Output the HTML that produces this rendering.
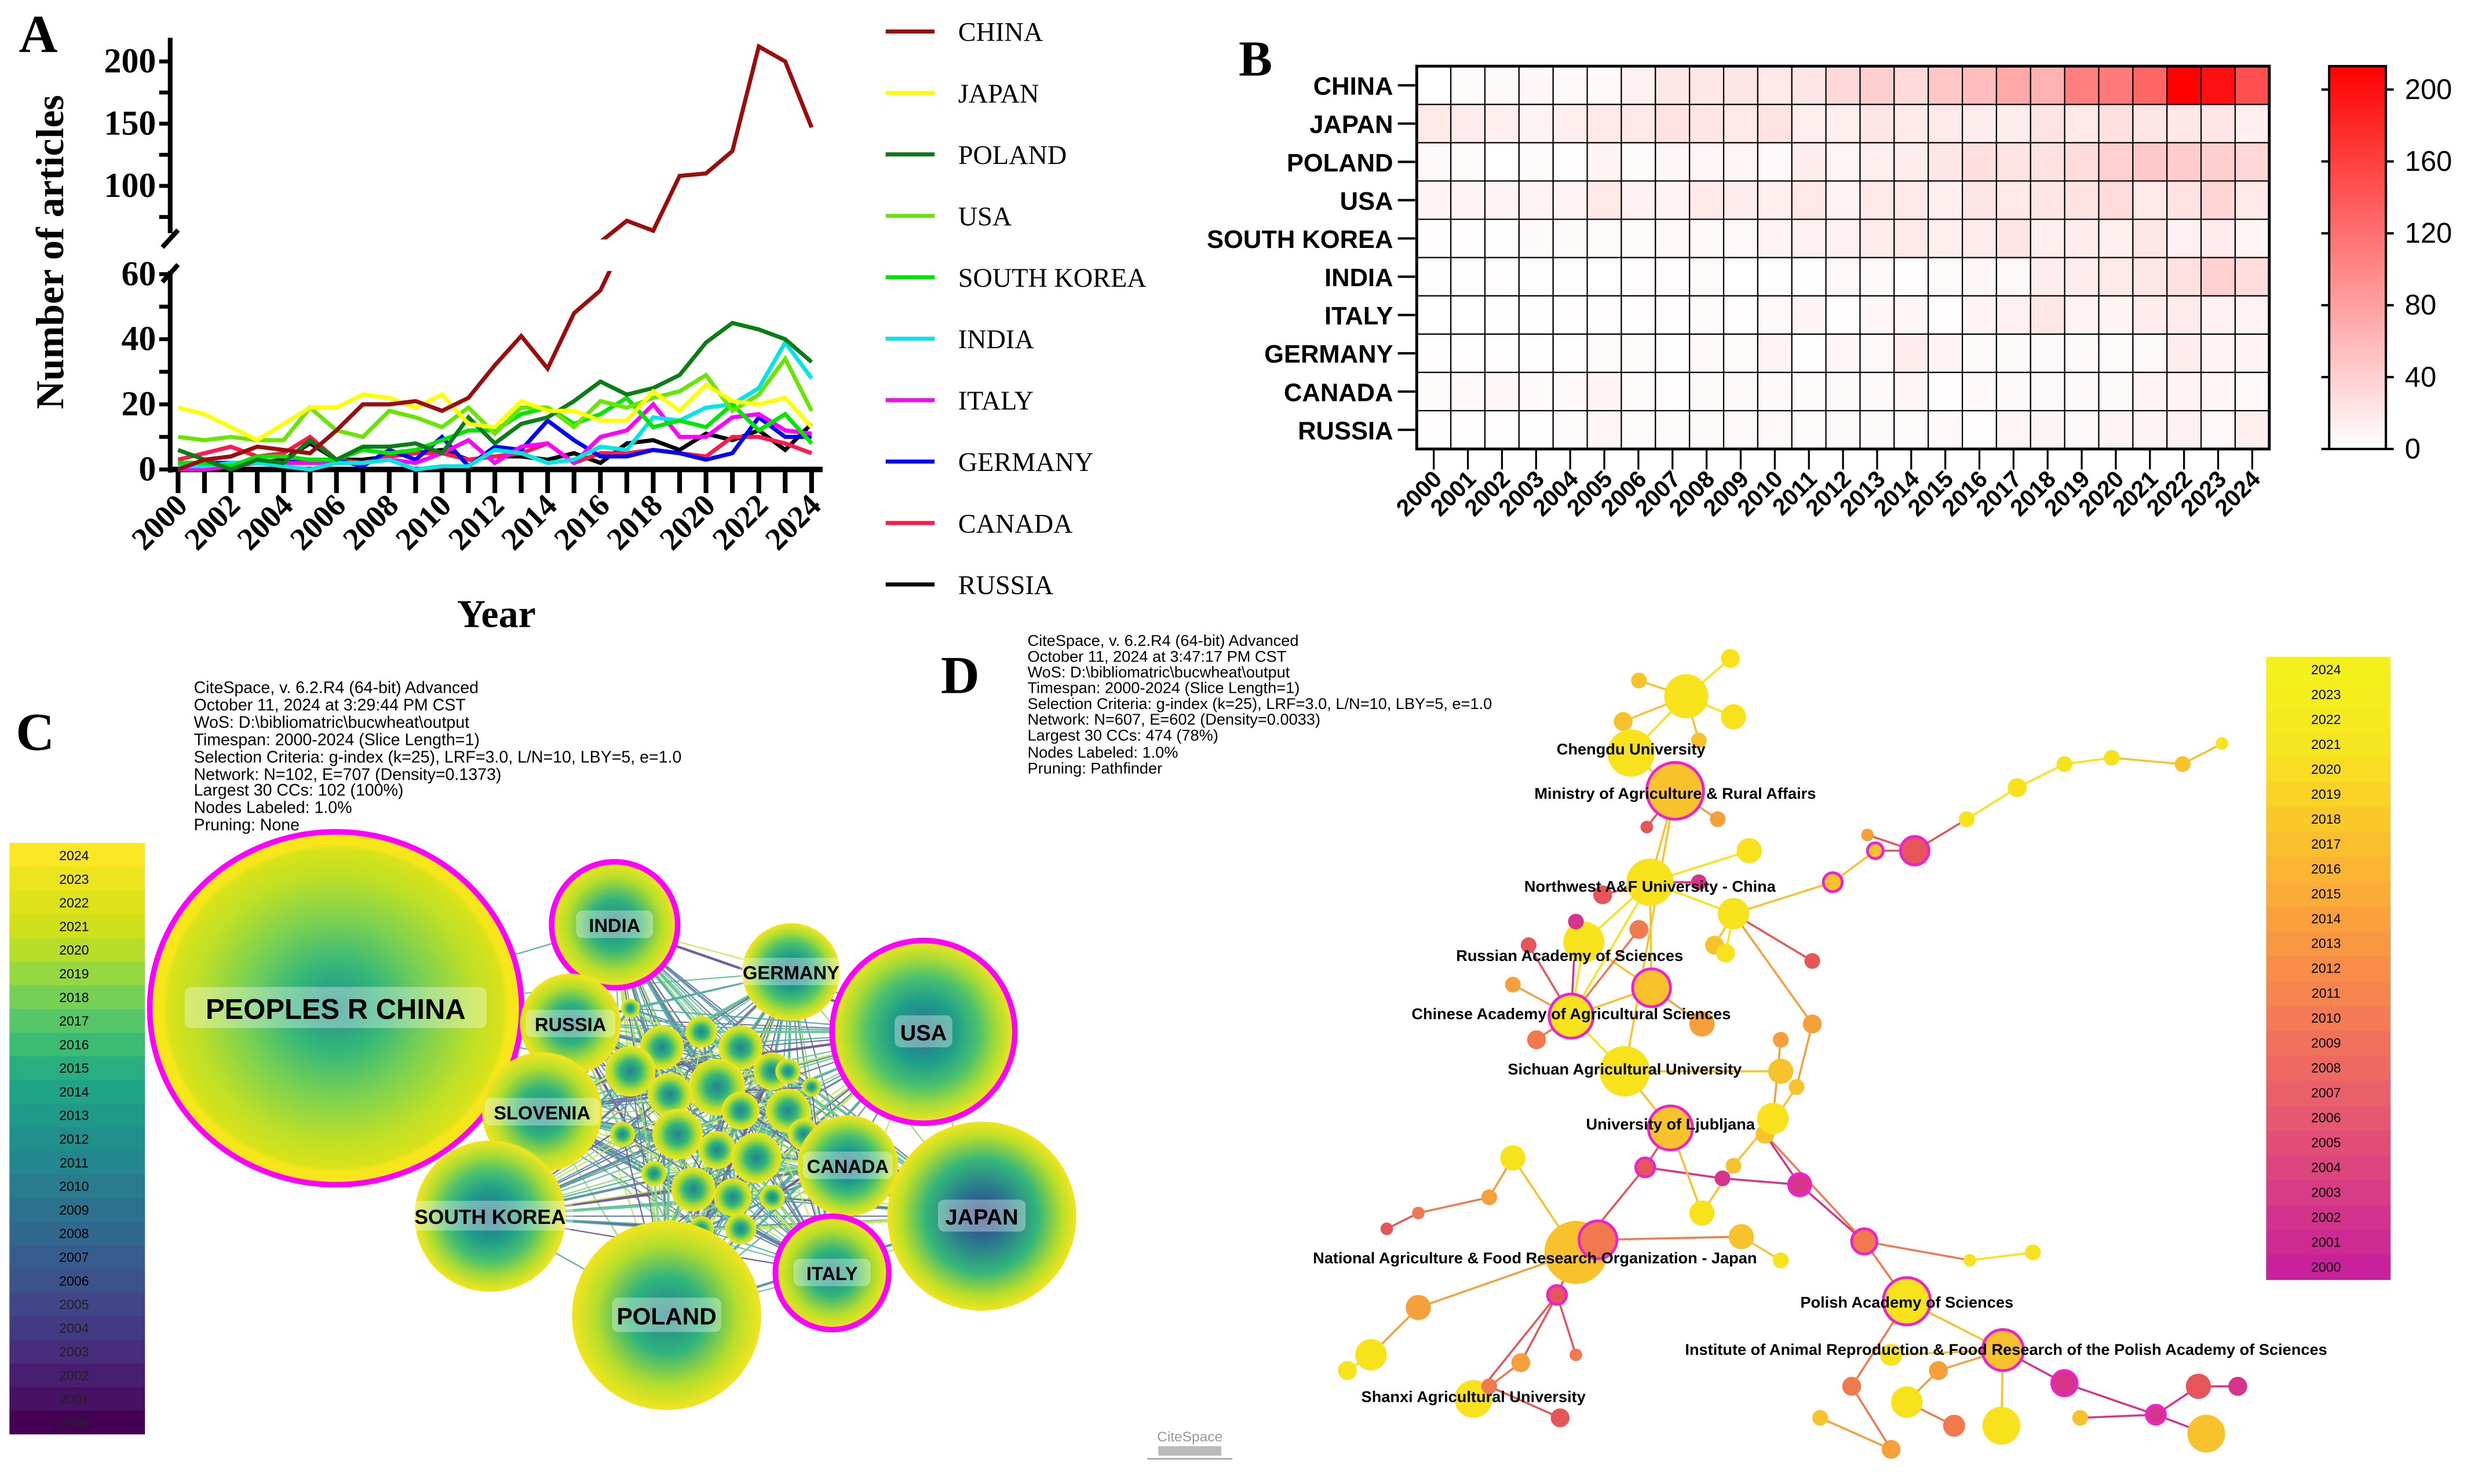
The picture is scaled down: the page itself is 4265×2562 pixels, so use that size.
<!DOCTYPE html>
<html><head><meta charset="utf-8">
<style>
html,body{margin:0;padding:0;background:#fff;}
svg{display:block;}
.serif{font-family:"Liberation Serif",serif;}
.sans{font-family:"Liberation Sans",sans-serif;}
.narrow{font-family:"Liberation Sans Narrow","Liberation Sans",sans-serif;}
</style></head>
<body>
<svg id="fig" xmlns="http://www.w3.org/2000/svg" width="4265" height="2562" viewBox="0 0 1568 942" preserveAspectRatio="none">
<defs>
<clipPath id="clipLow"><rect x="100" y="172" width="440" height="140"/></clipPath>
<clipPath id="clipHigh"><rect x="100" y="0" width="440" height="152"/></clipPath>
<linearGradient id="heatBar" x1="0" y1="1" x2="0" y2="0"><stop offset="0" stop-color="#ffffff"/><stop offset="1" stop-color="#ff0000"/></linearGradient>
<radialGradient id="gC"><stop offset="0" stop-color="#2c6f8e"/><stop offset="0.35" stop-color="#1f9e89"/><stop offset="0.6" stop-color="#4ac16d"/><stop offset="0.8" stop-color="#a5db36"/><stop offset="1" stop-color="#f2e51d"/></radialGradient>
<radialGradient id="gS"><stop offset="0" stop-color="#26828e"/><stop offset="0.4" stop-color="#2fb47c"/><stop offset="0.75" stop-color="#b5de2b"/><stop offset="1" stop-color="#f2e51d"/></radialGradient>
<radialGradient id="gChina"><stop offset="0" stop-color="#21908d"/><stop offset="0.25" stop-color="#35b779"/><stop offset="0.5" stop-color="#7ad151"/><stop offset="0.75" stop-color="#bddf26"/><stop offset="0.9" stop-color="#d8e219"/><stop offset="0.93" stop-color="#f6e61a"/><stop offset="1" stop-color="#f6e61a"/></radialGradient>
<radialGradient id="gJapan"><stop offset="0" stop-color="#3b3f88"/><stop offset="0.3" stop-color="#2a788e"/><stop offset="0.6" stop-color="#35b779"/><stop offset="0.85" stop-color="#b8de29"/><stop offset="1" stop-color="#f2e51d"/></radialGradient>
</defs>

<g id="panelA">
<text x="12" y="33" class="serif" font-weight="bold" font-size="34">A</text>
<text transform="translate(40,160) rotate(-90)" text-anchor="middle" class="serif" font-weight="bold" font-size="25">Number of articles</text>
<text x="315" y="398" text-anchor="middle" class="serif" font-weight="bold" font-size="25">Year</text>
<g id="axesA"></g>
<g id="linesA"></g>
<g id="legendA"></g>
</g>

<g id="panelB">
<text x="786" y="48" class="serif" font-weight="bold" font-size="32">B</text>
<g id="heatB"></g>
</g>

<g id="panelC">
<text x="10" y="476" class="serif" font-weight="bold" font-size="34">C</text>
<g class="sans" font-size="10.5">
<text x="123" y="440">CiteSpace, v. 6.2.R4 (64-bit) Advanced</text>
<text x="123" y="451">October 11, 2024 at 3:29:44 PM CST</text>
<text x="123" y="462">WoS: D:\bibliomatric\bucwheat\output</text>
<text x="123" y="473">Timespan: 2000-2024 (Slice Length=1)</text>
<text x="123" y="484">Selection Criteria: g-index (k=25), LRF=3.0, L/N=10, LBY=5, e=1.0</text>
<text x="123" y="495">Network: N=102, E=707 (Density=0.1373)</text>
<text x="123" y="505">Largest 30 CCs: 102 (100%)</text>
<text x="123" y="516">Nodes Labeled: 1.0%</text>
<text x="123" y="527">Pruning: None</text>
</g>
<g id="legendC"></g>
<g id="netC"></g>
</g>

<g id="panelD">
<text x="597" y="440" class="serif" font-weight="bold" font-size="34">D</text>
<g class="sans" font-size="10">
<text x="652" y="410">CiteSpace, v. 6.2.R4 (64-bit) Advanced</text>
<text x="652" y="420">October 11, 2024 at 3:47:17 PM CST</text>
<text x="652" y="430">WoS: D:\bibliomatric\bucwheat\output</text>
<text x="652" y="440">Timespan: 2000-2024 (Slice Length=1)</text>
<text x="652" y="450">Selection Criteria: g-index (k=25), LRF=3.0, L/N=10, LBY=5, e=1.0</text>
<text x="652" y="460">Network: N=607, E=602 (Density=0.0033)</text>
<text x="652" y="470">Largest 30 CCs: 474 (78%)</text>
<text x="652" y="481">Nodes Labeled: 1.0%</text>
<text x="652" y="491">Pruning: Pathfinder</text>
</g>
<g id="legendD"></g>
<g id="netD"></g>
<g>
<text x="755" y="915" text-anchor="middle" class="sans" font-size="9" fill="#999">CiteSpace</text>
<rect x="735" y="918" width="40" height="6" fill="#bbb"/>
<line x1="728" y1="926" x2="782" y2="926" stroke="#aaa" stroke-width="1"/>
</g>
</g>
</svg>

<script>
const NS = "http://www.w3.org/2000/svg";
const years = [2000,2001,2002,2003,2004,2005,2006,2007,2008,2009,2010,2011,2012,2013,2014,2015,2016,2017,2018,2019,2020,2021,2022,2023,2024];
const countries = ["CHINA","JAPAN","POLAND","USA","SOUTH KOREA","INDIA","ITALY","GERMANY","CANADA","RUSSIA"];
const chinaVals   = [0,3,4,7,6,5,12,20,20,21,18,22,32,41,31,48,55,72,64,108,110,128,212,200,147];
const japanVals   = [19,17,13,9,14,19,19,23,22,19,23,14,13,21,18,18,15,15,24,18,26,21,20,22,13];
const polandVals  = [6,3,0,3,2,9,3,7,7,8,5,16,8,14,16,21,27,23,25,29,39,45,43,40,33];
const usaVals     = [10,9,10,9,9,19,12,10,18,16,13,19,11,19,19,13,21,19,22,24,29,18,23,34,18];
const koreaVals   = [2,2,1,4,4,3,3,6,5,6,9,12,12,17,19,14,17,22,13,15,13,20,12,17,8];
const indiaVals   = [1,1,2,2,1,0,2,2,3,0,1,1,6,5,2,3,7,6,16,15,19,20,25,39,28];
const italyVals   = [0,0,1,2,2,2,2,2,3,2,5,9,2,7,8,2,10,12,20,10,10,16,17,12,11];
const germanyVals = [2,2,2,2,2,3,3,1,6,3,10,1,7,6,15,9,4,4,6,5,3,5,16,10,10];
const canadaVals  = [3,5,7,4,5,10,3,2,4,5,5,3,4,5,8,2,5,5,6,5,4,10,10,8,5];
const russiaVals  = [2,2,2,2,3,8,3,3,4,5,6,3,4,4,3,5,2,8,9,6,11,9,12,6,14];
const lowTicks = [0,20,40,60];
const highTicks = [100,150,200];
const barTicks = [0,40,80,120,160,200];
const seriesColors = ["#9b0d0d","#ffff00","#0a7d14","#66e600","#00e600","#00e6e6","#ff00ff","#0000ff","#ff1a4d","#000000"];
const allSeries = [chinaVals,japanVals,polandVals,usaVals,koreaVals,indiaVals,italyVals,germanyVals,canadaVals,russiaVals];

function el(tag, attrs, parent){const e=document.createElementNS(NS,tag);for(const k in attrs)e.setAttribute(k,attrs[k]);if(parent)parent.appendChild(e);return e;}

const xA = i => 113 + i*(515-113)/24;
const yLow = v => 298 - v*(124/60);
const yHigh = v => 118 - (v-100)*0.79;
(function(){
  const ax=document.getElementById('axesA');
  let e;
  e=el('line',{x1:108,y1:172,x2:108,y2:300,stroke:'#000','stroke-width':3},ax);
  
  
  e=el('line',{x1:108,y1:24,x2:108,y2:148,stroke:'#000','stroke-width':3},ax);
  
  
  el('line',{x1:103,y1:157,x2:113,y2:146,stroke:'#000','stroke-width':3},ax);
  el('line',{x1:103,y1:179,x2:113,y2:168,stroke:'#000','stroke-width':3},ax);
  e=el('line',{x1:107,y1:298,x2:522,y2:298,stroke:'#000','stroke-width':3.5},ax);
  
  
  for(let v=0;v<=60;v+=10){el('line',{x1:101,y1:yLow(v),x2:108,y2:yLow(v),stroke:'#000','stroke-width':2.5},ax);}
  lowTicks.forEach(v=>{const t=el('text',{x:99,y:yLow(v)+7,'text-anchor':'end','font-size':22,'font-weight':'bold','class':'serif'},ax);t.textContent=v;
    
    });
  for(let v=75;v<=225;v+=25){if(yHigh(v)<24)continue;el('line',{x1:101,y1:yHigh(v),x2:108,y2:yHigh(v),stroke:'#000','stroke-width':2.5},ax);}
  highTicks.forEach(v=>{const t=el('text',{x:99,y:yHigh(v)+7,'text-anchor':'end','font-size':22,'font-weight':'bold','class':'serif'},ax);t.textContent=v;
    
    });
  years.forEach((yr,i)=>{el('line',{x1:xA(i),y1:298,x2:xA(i),y2:313,stroke:'#000','stroke-width':3},ax);
    if(i%2===0){const t=el('text',{transform:`translate(${xA(i)+7},${322}) rotate(-45)`,'text-anchor':'end','font-size':20,'font-weight':'bold','class':'serif'},ax);t.textContent=yr;
      
      }
  });
  const lg=document.getElementById('linesA');
  for(let s=allSeries.length-1;s>=0;s--){
    const vals=allSeries[s];
    const pl=el('polyline',{points:vals.map((v,i)=>xA(i)+','+yLow(v)).join(' '),fill:'none',stroke:seriesColors[s],'stroke-width':2.6,'stroke-linejoin':'miter','clip-path':'url(#clipLow)'},lg);
    
    
    if(s===0){
      const ph=el('polyline',{points:vals.map((v,i)=>xA(i)+','+yHigh(v)).join(' '),fill:'none',stroke:seriesColors[s],'stroke-width':2.6,'clip-path':'url(#clipHigh)'},lg);
      
      
    }
  }
  const lgd=document.getElementById('legendA');
  countries.forEach((c,i)=>{const y=20+i*39;
    const g=el('g',{},lgd);
    
    
    el('line',{x1:562,y1:y,x2:593,y2:y,stroke:seriesColors[i],'stroke-width':2.6},g);
    const t=el('text',{x:608,y:y+6,'font-size':17,'class':'serif'},g);t.textContent=c;});
})();

(function(){
  const hb=document.getElementById('heatB');
  const x0=899,x1=1440,y0=42,y1=285;
  const cw=(x1-x0)/25, rh=(y1-y0)/10, vmax=213;
  allSeries.forEach((vals,r)=>{
    vals.forEach((v,c)=>{
      const t=Math.min(v/vmax,1);const gb=Math.round(255*(1-t));
      const cell=el('rect',{x:x0+c*cw,y:y0+r*rh,width:cw,height:rh,fill:`rgb(255,${gb},${gb})`,stroke:'#000','stroke-width':0.8},hb);
      
      
    });
    el('line',{x1:887,y1:y0+(r+.5)*rh,x2:898,y2:y0+(r+.5)*rh,stroke:'#000','stroke-width':1.5},hb);
    const t=el('text',{x:884,y:y0+(r+.5)*rh+6,'text-anchor':'end','font-size':16,'font-weight':'bold','class':'narrow'},hb);t.textContent=countries[r];
    
    
  });
  el('rect',{x:x0,y:y0,width:x1-x0,height:y1-y0,fill:'none',stroke:'#000','stroke-width':1.8},hb);
  years.forEach((yr,c)=>{const cx=x0+(c+.5)*cw;
    el('line',{x1:cx,y1:y1,x2:cx,y2:y1+13,stroke:'#000','stroke-width':1.2},hb);
    const t=el('text',{transform:`translate(${cx+6},${y1+20}) rotate(-45)`,'text-anchor':'end','font-size':15,'font-weight':'bold','class':'narrow'},hb);t.textContent=yr;
    
    });
  const bar=el('rect',{x:1478,y:42,width:36,height:243,fill:'url(#heatBar)',stroke:'#000','stroke-width':1.5},hb);
  
  
  const yb=v=>285 - v*(243/vmax);
  barTicks.forEach(v=>{
    el('line',{x1:1514,y1:yb(v),x2:1519,y2:yb(v),stroke:'#000','stroke-width':1.5},hb);
    el('line',{x1:1473,y1:yb(v),x2:1478,y2:yb(v),stroke:'#000','stroke-width':1.5},hb);
    const t=el('text',{x:1526,y:yb(v)+6,'font-size':18,'class':'narrow'},hb);t.textContent=v;
    
    });
})();

const viridis=["#440154","#471164","#481f70","#472d7b","#443a83","#404688","#3b528b","#365d8d","#31688e","#2c728e","#287c8e","#24868e","#21908d","#1f9a8a","#20a386","#29af7f","#3dbc74","#56c667","#75d054","#95d840","#b8de29","#d0e11c","#dde318","#ece51b","#fde725"];
(function(){
  const lc=document.getElementById('legendC');
  years.forEach((yr,i)=>{const y=535+(24-i)*15;
    el('rect',{x:6,y:y,width:86,height:15.5,fill:viridis[i]},lc);
    const t=el('text',{x:47,y:y+11,'text-anchor':'middle','font-size':8.5,'class':'sans',fill:i<6?'#222':'#000'},lc);t.textContent=yr;
    
    });
  const net=document.getElementById('netC');
  const big=[
    ["PEOPLES R CHINA",213,640,118,112,true,18,'gChina'],
    ["INDIA",390,587,40,40,true,12,'gS'],
    ["GERMANY",502,617,31,31,false,12,'gC'],
    ["USA",586,655,58,58,true,14,'gC'],
    ["RUSSIA",362,650,32,32,false,12,'gS'],
    ["SLOVENIA",344,706,38,38,false,12,'gS'],
    ["CANADA",538,740,32,32,false,12,'gC'],
    ["JAPAN",623,772,60,60,false,14,'gJapan'],
    ["SOUTH KOREA",311,772,48,48,false,13,'gC'],
    ["ITALY",528,808,36,36,true,12,'gS'],
    ["POLAND",423,835,60,60,false,15,'gS']];
  const small=[[400,640,6],[420,665,14],[445,655,10],[470,665,14],[490,680,12],[455,690,18],[425,695,14],[400,680,16],[470,705,12],[500,705,14],[430,720,16],[455,730,12],[480,735,16],[510,720,10],[440,755,14],[465,760,12],[415,745,8],[490,760,8],[500,680,8],[395,720,8],[515,690,6],[520,740,8],[445,780,8],[425,780,6],[470,780,10]];
  const ecol=["#1f9a8a","#35b779","#3b528b","#6ece58","#2c728e","#b5de2b","#482878","#21908d"];
  const eg=el('g',{opacity:0.75},net);
  
  
  let k=0;
  const pts=big.map(b=>[b[1],b[2]]).concat(small.map(s=>[s[0],s[1]]));
  for(let i=0;i<pts.length;i++){for(let j=i+1;j<pts.length;j++){
    if(i===0&&j>3&&j%3!==0)continue;
    if(i>10&&j>10&&(i+j)%4!==0)continue;
    el('line',{x1:pts[i][0],y1:pts[i][1],x2:pts[j][0],y2:pts[j][1],stroke:ecol[k++%ecol.length],'stroke-width':(k%5===0)?1.6:0.8},eg);}}
  small.forEach(s=>{const c=el('circle',{cx:s[0],cy:s[1],r:s[2],fill:'url(#gS)'},net);
    
    });
  big.forEach(b=>{
    const g=el('g',{},net);
    
    
    el('ellipse',{cx:b[1],cy:b[2],rx:b[3],ry:b[4],fill:'url(#'+b[7]+')',stroke:b[5]?'#ff00ff':'none','stroke-width':b[5]?3.5:0},g);
    const w=b[0].length*b[6]*0.68+8;
    el('rect',{x:b[1]-w/2,y:b[2]-b[6]*0.75,width:w,height:b[6]*1.45,rx:4,fill:'#fff',opacity:0.35},g);
    const t=el('text',{x:b[1],y:b[2]+b[6]*0.38,'text-anchor':'middle','font-size':b[6],'font-weight':'bold','class':'sans'},g);t.textContent=b[0];
  });
})();

const plasmaY=["#c8219b","#cd2a94","#d3338d","#d83c86","#dd457f","#e24e78","#e65771","#ea606a","#ee6963","#f1725c","#f47b55","#f6844f","#f88d49","#f99743","#faa13d","#fbab37","#fbb532","#fbbf2d","#fac929","#f9d325","#f8dd22","#f6e61f","#f5ea1e","#f4ee1d","#f3f01c"];
(function(){
  const ld=document.getElementById('legendD');
  years.forEach((yr,i)=>{const y=417+(24-i)*15.8;
    el('rect',{x:1438,y:y,width:79,height:16.3,fill:plasmaY[i]},ld);
    const t=el('text',{x:1476,y:y+11,'text-anchor':'middle','font-size':8.5,'class':'sans'},ld);t.textContent=yr;
    
    });
  const pal=['#f7e21b','#f8c22d','#f6a03c','#f07a4d','#e65559','#d6348a'];
  const N=[[1070,442,14,0],[1040,432,5,1],[1098,418,6,0],[1100,455,8,0],[1078,470,5,1],[1030,458,6,1],[1035,478,15,0],[1063,502,18,1],[1090,520,5,2],[1045,525,4,4],
  [1047,560,15,0],[1017,568,6,4],[1100,580,10,0],[1078,560,5,5],[1005,598,13,0],[1048,627,12,1],[997,645,14,0],[1031,680,16,0],[1060,716,14,1],[1044,741,6,4],
  [1093,748,5,5],[1142,752,7,5],[1000,795,20,1],[1014,787,12,3],[988,822,6,4],[1210,826,15,0],[1271,857,13,1],[1310,878,8,5],[1368,898,6,5],[1400,910,12,1],
  [935,888,12,0],[1163,560,6,1],[1190,540,5,1],[1215,540,9,4],[1248,520,5,0],[1280,500,6,0],[1310,485,5,0],[1340,481,5,0],[1385,485,5,1],[1410,472,4,0],
  [1150,650,6,2],[1140,690,5,1],[1120,720,6,1],[1183,788,8,3],[1250,800,4,0],[1290,795,5,0],[960,735,8,0],[945,760,5,2],[900,770,4,3],[880,780,4,4],
  [900,830,8,2],[870,860,10,0],[855,870,6,0],[965,865,6,2],[945,880,5,3],[990,900,6,4],[1000,860,4,3],[1080,770,8,0],[1100,740,5,1],[1125,710,10,0],
  [1130,660,5,2],[1040,590,6,3],[1000,585,5,5],[970,600,5,4],[960,625,5,2],[975,660,6,3],[1080,650,8,2],[1088,600,6,1],[1130,680,8,1],[1200,860,7,0],
  [1230,870,6,2],[1210,890,10,0],[1240,905,7,3],[1270,905,12,0],[1320,900,5,1],[1395,880,8,4],[1420,880,6,5],[1175,880,6,3],[1200,920,6,2],[1155,900,5,1],
  [1105,785,8,1],[1130,800,5,0],[1150,610,5,4],[1110,540,8,0],[1095,605,6,0],[1185,530,4,2]];
  const rings=new Set([7,15,16,18,19,21,23,24,25,26,27,28,31,32,33,43]);
  const E=[[0,1],[0,2],[0,3],[0,4],[0,5],[0,6],[6,7],[7,8],[7,9],[7,10],[10,11],[10,12],[10,13],[10,14],[14,15],[15,16],[14,16],[16,17],[17,18],[18,19],[19,20],[20,21],[19,22],[22,23],[22,24],[24,30],[21,43],[43,25],[25,26],[26,27],[27,28],[28,29],[12,31],[31,32],[32,33],[33,34],[34,35],[35,36],[36,37],[37,38],[38,39],[12,40],[40,41],[41,42],[42,43],[43,44],[44,45],[22,46],[46,47],[47,48],[48,49],[22,50],[50,51],[51,52],[24,53],[53,54],[54,55],[24,56],[18,57],[57,58],[58,59],[59,60],[16,61],[16,62],[16,63],[16,64],[16,65],[15,66],[12,67],[17,68],[26,69],[26,70],[70,71],[71,72],[26,73],[28,74],[28,75],[75,76],[25,77],[77,78],[78,79],[23,80],[80,81],[12,82],[10,83],[12,84],[33,85],[10,16],[7,17],[15,10],[21,42]];
  const net=document.getElementById('netD');
  const eg=el('g',{},net);
  
  
  E.forEach(e=>{const a=N[e[0]],b=N[e[1]];el('line',{x1:a[0],y1:a[1],x2:b[0],y2:b[1],stroke:pal[Math.max(a[3],b[3])],'stroke-width':1.3},eg);});
  N.forEach((n,i)=>{const c=el('circle',{cx:n[0],cy:n[1],r:n[2],fill:pal[n[3]],stroke:rings.has(i)?'#ee22cc':'none','stroke-width':rings.has(i)?1.8:0},net);
    
    });
  const labels=[["Chengdu University",1035,479],["Ministry of Agriculture & Rural Affairs",1063,507],["Northwest A&F University - China",1047,566],["Russian Academy of Sciences",996,610],["Chinese Academy of Agricultural Sciences",997,647],["Sichuan Agricultural University",1031,682],["University of Ljubljana",1060,717],["National Agriculture & Food Research Organization - Japan",974,802],["Polish Academy of Sciences",1210,830],["Institute of Animal Reproduction & Food Research of the Polish Academy of Sciences",1273,860],["Shanxi Agricultural University",935,890]];
  labels.forEach(l=>{const t=el('text',{x:l[1],y:l[2],'text-anchor':'middle','font-size':10,'font-weight':'bold','class':'narrow'},net);t.textContent=l[0];
    
    });
})();
</script>
</body></html>
